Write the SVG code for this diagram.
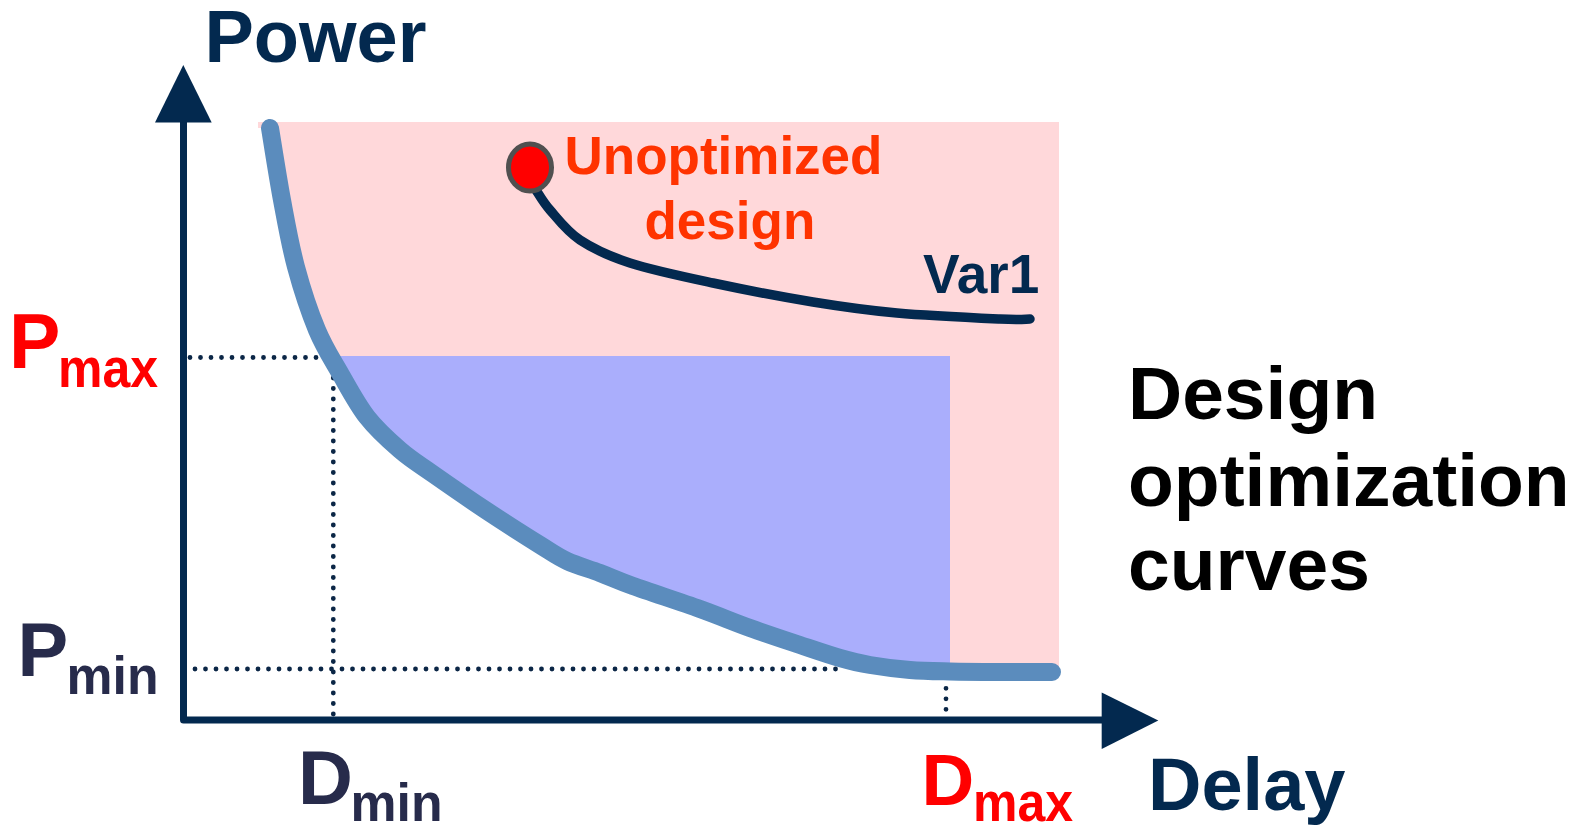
<svg xmlns="http://www.w3.org/2000/svg" width="1585" height="825" viewBox="0 0 1585 825">
  <style>
    text { font-family: "Liberation Sans", Arial, sans-serif; font-weight: bold; }
    .navy { fill: #03294F; }
    .ink { fill: #272B4B; }
    .red { fill: #FF0000; }
    .orange { fill: #FF3300; }
    .guide { fill: none; stroke: #0B2646; stroke-width: 4.8; stroke-linecap: round; stroke-dasharray: 0 10.5; }
    .axis { fill: none; stroke: #03294F; stroke-width: 7; }
  </style>
  <defs>
    <!-- optimal power/delay trade-off curve -->
    <path id="optimal" d="M270,128 C272,140 277.67,176.83 282,200 C286.33,223.17 290.17,245.33 296,267 C301.83,288.67 309.67,312.33 317,330 C324.33,347.67 331.67,358.5 340,373 C348.33,387.5 357,404.17 367,417 C377,429.83 389,440.5 400,450 C411,459.5 418.5,463.83 433,474 C447.5,484.17 469.17,499.17 487,511 C504.83,522.83 526.67,536.67 540,545 C553.33,553.33 557,556.33 567,561 C577,565.67 589,568.83 600,573 C611,577.17 616.33,580 633,586 C649.67,592 680.5,602 700,609 C719.5,616 733.33,622 750,628 C766.67,634 785,640 800,645 C815,650 828.33,654.67 840,658 C851.67,661.33 858.33,663 870,665 C881.67,667 896.67,668.92 910,670 C923.33,671.08 935,671.17 950,671.5 C965,671.83 983,671.92 1000,672 C1017,672.08 1043.33,672 1052,672"/>
    <!-- area lying above / right of the optimal curve -->
    <clipPath id="aboveCurve">
      <path d="M270,128 C272,140 277.67,176.83 282,200 C286.33,223.17 290.17,245.33 296,267 C301.83,288.67 309.67,312.33 317,330 C324.33,347.67 331.67,358.5 340,373 C348.33,387.5 357,404.17 367,417 C377,429.83 389,440.5 400,450 C411,459.5 418.5,463.83 433,474 C447.5,484.17 469.17,499.17 487,511 C504.83,522.83 526.67,536.67 540,545 C553.33,553.33 557,556.33 567,561 C577,565.67 589,568.83 600,573 C611,577.17 616.33,580 633,586 C649.67,592 680.5,602 700,609 C719.5,616 733.33,622 750,628 C766.67,634 785,640 800,645 C815,650 828.33,654.67 840,658 C851.67,661.33 858.33,663 870,665 C881.67,667 896.67,668.92 910,670 C923.33,671.08 935,671.17 950,671.5 C965,671.83 983,671.92 1000,672 C1017,672.08 1043.33,672 1052,672 L1100,672 L1100,100 L258,100 L258,128 Z"/>
    </clipPath>
  </defs>

  <!-- design space regions -->
  <g id="regions" clip-path="url(#aboveCurve)">
    <rect id="feasible" x="258" y="122" width="801" height="570" fill="#FFD8DA"/>
    <rect id="target" x="300" y="356" width="650" height="330" fill="#AAAEFC"/>
  </g>

  <!-- dotted guide lines to the limits -->
  <g id="guides">
    <path class="guide" d="M190,357.5 H317"/>
    <path class="guide" d="M333.3,378 V715"/>
    <path class="guide" d="M195,669 H846"/>
    <path class="guide" d="M946,688.3 V710"/>
  </g>

  <!-- axes -->
  <g id="axes">
    <path class="axis" d="M183.5,120 V720 H1104" stroke-linejoin="round"/>
    <polygon points="183.3,65 155,122.5 211.7,122.5" fill="#03294F"/>
    <polygon points="1101.7,692.5 1158.3,720.5 1101.7,749" fill="#03294F"/>
  </g>

  <!-- curves -->
  <g id="connectors">
    <use href="#optimal" fill="none" stroke="#5B8CBD" stroke-width="18" stroke-linecap="round"/>
    <path id="var1-curve" d="M536,190 C538.3,193.3 542.7,201.7 550,210 C557.3,218.3 566.7,231.2 580,240 C593.3,248.8 607.8,255.8 630,263 C652.2,270.2 682.5,276.5 713,283 C743.5,289.5 782.3,297 813,302 C843.7,307 865.8,310.2 897,313 C928.2,315.8 977.8,318 1000,319 C1022.2,320 1025,319 1030,319" fill="none" stroke="#03294F" stroke-width="9.5" stroke-linecap="round"/>
  </g>

  <!-- starting point -->
  <g id="unoptimized-point">
    <ellipse cx="530" cy="167.5" rx="21.5" ry="23.5" fill="#FF0000" stroke="#505050" stroke-width="5"/>
  </g>

  <!-- labels -->
  <g id="label-power"><text class="navy" x="204.5" y="62" font-size="74">Power</text></g>
  <g id="label-delay"><text class="navy" x="1148" y="810" font-size="74">Delay</text></g>
  <g id="label-unoptimized">
    <text class="orange" x="564.5" y="174.3" font-size="53">Unoptimized</text>
    <text class="orange" x="644.5" y="239.3" font-size="53">design</text>
  </g>
  <g id="label-var1"><text class="navy" x="923" y="293" font-size="55">Var1</text></g>
  <g id="label-pmax">
    <text class="red" x="9" y="368" font-size="77">P</text>
    <text class="red" x="58" y="387" font-size="56" textLength="100" lengthAdjust="spacingAndGlyphs">max</text>
  </g>
  <g id="label-pmin">
    <text class="ink" x="17.5" y="676" font-size="76">P</text>
    <text class="ink" x="66.5" y="694" font-size="54" textLength="92" lengthAdjust="spacingAndGlyphs">min</text>
  </g>
  <g id="label-dmin">
    <text class="ink" x="298" y="804" font-size="76">D</text>
    <text class="ink" x="350.5" y="821" font-size="54" textLength="92" lengthAdjust="spacingAndGlyphs">min</text>
  </g>
  <g id="label-dmax">
    <text class="red" x="921.5" y="805" font-size="73">D</text>
    <text class="red" x="973" y="821" font-size="56" textLength="100" lengthAdjust="spacingAndGlyphs">max</text>
  </g>
  <g id="title">
    <text fill="#000000" x="1128" y="419" font-size="75">Design</text>
    <text fill="#000000" x="1128" y="506" font-size="75">optimization</text>
    <text fill="#000000" x="1128" y="590" font-size="75">curves</text>
  </g>
</svg>
